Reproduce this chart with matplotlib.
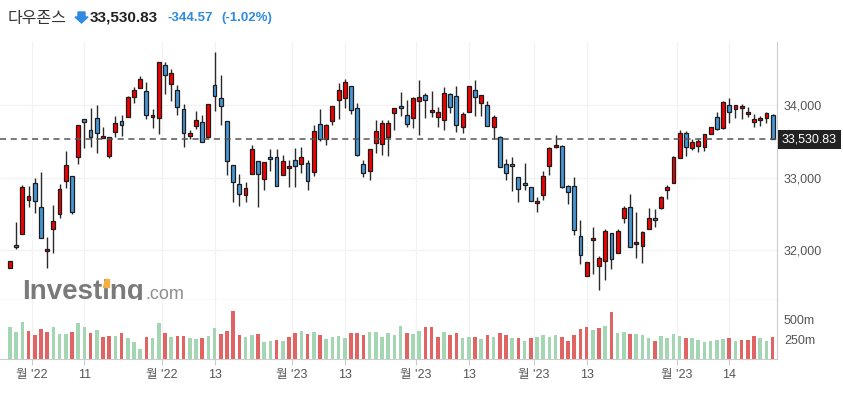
import numpy as np
import matplotlib
matplotlib.use("Agg")
import matplotlib.pyplot as plt
from matplotlib.patches import Polygon

plt.rcParams['font.family'] = ['Liberation Sans', 'Noto Sans CJK KR', 'DejaVu Sans']

# daily OHLC (26 Oct 2022 .. 25 Apr 2023)
opens = [31747, 32065, 32217, 32687, 32931, 32590, 31982, 32286, 32498, 32950,
         33019, 33281, 33807, 33655, 33820, 33544, 33295, 33627, 33783, 33839,
         34111, 34235, 34194, 33834, 33820, 34553, 34290, 34207, 33945, 33572,
         33710, 33765, 33558, 34276, 34097, 33779, 33171, 32908, 32756, 33046,
         33235, 32977, 33286, 33281, 33033, 33129, 33240, 33185, 33198, 33074,
         33737, 33530, 33779, 34069, 34097, 34263, 33959, 33185, 33088, 33475,
         33461, 33558, 33889, 33986, 33862, 33820, 34055, 34138, 33903, 33834,
         33793, 34152, 34124, 33696, 33903, 34207, 34028, 34000, 33696, 33558,
         33185, 33185, 33005, 32922, 32867, 32646, 32756, 33157, 33420, 33433,
         32881, 32881, 32190, 31637, 32134, 31775, 31844, 32231, 31955, 32438,
         32590, 32079, 32051, 32286, 32438, 32576, 32825, 32922, 33268, 33613,
         33406, 33433, 33420, 33599, 33834, 33682, 34000, 33945, 33959, 33876,
         33765, 33793, 33820, 33862]
closes = [31849, 32037, 32867, 32742, 32673, 32162, 32010, 32406, 32839, 33171,
          32530, 33724, 33765, 33558, 33613, 33572, 33558, 33760, 33724, 34111,
          34207, 34359, 33862, 33866, 34594, 34419, 34442, 33972, 33613, 33613,
          33793, 33493, 34014, 34124, 33991, 33231, 32936, 32770, 32853, 33392,
          33046, 33212, 33254, 32890, 33226, 33157, 33157, 33281, 32950, 33641,
          33530, 33724, 33986, 34207, 34318, 33931, 33309, 33060, 33392, 33641,
          33751, 33751, 33959, 33959, 33737, 34097, 34111, 34069, 33931, 33903,
          34166, 33972, 33724, 33876, 34263, 34111, 34138, 33710, 33834, 33143,
          33060, 33157, 32839, 32894, 32673, 32673, 33019, 33406, 33447, 32867,
          32807, 32272, 31927, 31830, 32162, 31885, 32259, 31872, 32259, 32576,
          32037, 32107, 32245, 32438, 32411, 32729, 32867, 33281, 33613, 33420,
          33489, 33502, 33599, 33696, 33668, 34041, 33903, 34000, 33986, 33903,
          33807, 33820, 33889, 33530.83]
highs = [31849, 32392, 32894, 32890, 32991, 33074, 32185, 32618, 32908, 33364,
         33019, 33724, 33807, 33968, 34000, 33696, 33558, 33853, 33871, 34134,
         34258, 34405, 34318, 33945, 34594, 34594, 34502, 34276, 34014, 33655,
         33922, 33866, 34014, 34733, 34424, 33779, 33171, 33046, 32945, 33447,
         33235, 33212, 33392, 33392, 33309, 33249, 33406, 33420, 33249, 33724,
         33945, 33742, 33986, 34309, 34364, 34263, 34028, 33245, 33392, 33797,
         33793, 33793, 33959, 34184, 34069, 34111, 34346, 34166, 34194, 33972,
         34249, 34166, 34263, 33903, 34263, 34346, 34138, 34055, 33862, 33572,
         33254, 33281, 33005, 33198, 32867, 32729, 33088, 33429, 33585, 33447,
         32894, 33005, 32420, 31830, 32314, 31913, 32286, 32231, 32286, 32604,
         32770, 32521, 32259, 32576, 32563, 32742, 32894, 33295, 33655, 33641,
         33530, 33530, 33599, 33696, 33903, 34055, 34097, 34000, 34014, 33972,
         33876, 33848, 33903, 33876]
lows = [31747, 32010, 32217, 32600, 32507, 32162, 31747, 31955, 32438, 32853,
        32494, 33185, 33406, 33420, 33337, 33544, 33268, 33558, 33572, 33839,
        34028, 34235, 33811, 33682, 33599, 34152, 34060, 33866, 33429, 33535,
        33668, 33493, 33558, 33922, 33724, 33037, 32669, 32609, 32669, 33046,
        32590, 32825, 33092, 32890, 33033, 32867, 32876, 33060, 32825, 33023,
        33502, 33447, 33724, 33807, 33959, 33880, 33300, 33005, 32963, 33337,
        33314, 33295, 33655, 33853, 33696, 33682, 33595, 33825, 33834, 33696,
        33655, 33889, 33627, 33613, 33903, 33848, 33848, 33710, 33530, 33143,
        32963, 32811, 32659, 32825, 32673, 32521, 32687, 33033, 33406, 32853,
        32641, 32203, 31802, 31637, 31664, 31443, 31581, 31733, 31955, 32369,
        32037, 31885, 31816, 32286, 32314, 32563, 32701, 32922, 33268, 33295,
        33378, 33350, 33364, 33599, 33655, 33668, 33751, 33820, 33807, 33834,
        33696, 33710, 33751, 33530.83]
volumes = [399, 337, 462, 349, 299, 374, 337, 399, 312, 312,
           337, 449, 399, 324, 362, 274, 287, 287, 324, 262,
           212, 124, 274, 262, 449, 324, 274, 287, 287, 262,
           249, 262, 287, 387, 312, 349, 599, 299, 274, 299,
           312, 212, 224, 237, 224, 274, 324, 349, 312, 337,
           299, 249, 274, 287, 262, 324, 324, 299, 337, 337,
           274, 324, 299, 412, 324, 312, 349, 399, 399, 274,
           337, 299, 324, 262, 274, 274, 249, 299, 274, 324,
           299, 262, 262, 224, 262, 274, 299, 274, 299, 274,
           224, 299, 374, 399, 362, 387, 412, 591, 324, 337,
           312, 312, 299, 262, 224, 287, 262, 312, 287, 262,
           262, 237, 212, 224, 237, 249, 262, 224, 237, 237,
           287, 262, 224, 274]
vol_dir = ("GGGRRRRGGG" "RGGRGRRGRG" "GGRGGRGRRG" "GRGGRRRRGG" "RGGRGRRGRG"
           "RGGGGRRRGG" "GGGGRGGRRR" "GRRGGRGRGR" "RGRGRGGGGR" "RRRRGRGRGG"
           "RGGGRGGGGR" "GGGGGGRGRR" "RGGR")

tick_pos = [3.5, 12, 24.5, 33, 45.5, 54, 65.5, 74, 84.5, 93, 107.5, 116]
tick_labels = ["월 '22", "11", "월 '22", "13", "월 '23", "13",
               "월 '23", "13", "월 '23", "13", "월 '23", "14"]

last = 33530.83
up_col = "#f50000"
down_col = "#4898d8"
edge = "#1c1c1c"

W, H = 843, 394
fig = plt.figure(figsize=(W / 100, H / 100), dpi=100)
ax = fig.add_axes([0, 1 - 300 / H, 777 / W, 258 / H])
axv = fig.add_axes([0, 1 - 359 / H, 777 / W, 59 / H], sharex=ax)

x = np.arange(len(opens))
o = np.array(opens, float)
c = np.array(closes, float)
hi = np.array(highs, float)
lo = np.array(lows, float)
up = c >= o
cols = np.where(up, up_col, down_col)
bottom = np.minimum(o, c)
height = np.maximum(np.abs(c - o), 25)

ax.vlines(x, lo, hi, color="#2a2a2a", lw=1.0, zorder=2)
ax.bar(x, height, bottom=bottom, width=0.62, color=cols, edgecolor=edge,
       linewidth=0.9, zorder=3)

ax.axhline(last, color="#555555", lw=1.1, ls=(0, (4, 3)), zorder=4)

ax.set_xlim(-1.6, 123.7)
ax.set_ylim(31309, 34875)
ax.yaxis.tick_right()
ax.set_yticks([32000, 33000, 34000])
ax.set_yticklabels(["32,000", "33,000", "34,000"])
ax.tick_params(axis='y', length=0, pad=5, labelsize=9, labelcolor="#555555")
ax.tick_params(axis='x', length=0, labelbottom=False)
ax.set_xticks(tick_pos)
ax.grid(True, color="#f2f2f2", lw=0.9)
ax.set_axisbelow(True)
for s in ["top", "left"]:
    ax.spines[s].set_visible(False)
ax.spines["right"].set_color("#cccccc")
ax.spines["bottom"].set_color("#bbbbbb")

# price tag on the right axis
ax.annotate(f"{last:,.2f}", xy=(1, last), xycoords=('axes fraction', 'data'),
            xytext=(3.5, 0), textcoords='offset points', va='center', ha='left',
            fontsize=9, color="white",
            bbox=dict(boxstyle="square,pad=0.3", fc="#222222", ec="none"),
            annotation_clip=False)

# watermark
wm_kw = dict(fontsize=20, fontweight='bold')
ax.text(22 / 777, 0.002, "Investing", transform=ax.transAxes, color="#7a7a7a",
        ha='left', va='baseline', clip_on=True, zorder=1, **wm_kw)
ax.text(145 / 777, 0.002, ".com", transform=ax.transAxes, fontsize=13,
        color="#8e8e8e", ha='left', va='baseline', clip_on=True, zorder=1)
# orange dot of the second "i"
fig.canvas.draw()
r = fig.canvas.get_renderer()
tmp1 = fig.text(0, 0, "Invest", **wm_kw)
tmp2 = fig.text(0, 0, "Investi", **wm_kw)
w1 = tmp1.get_window_extent(r).width
w2 = tmp2.get_window_extent(r).width
tmp1.remove()
tmp2.remove()
x0 = 22 + w1 + 0.5
x1 = 22 + w2 - 0.5
yb, yt = H - 287, H - 279
dot = Polygon([[x0 / W, yb / H], [x1 / W, yb / H], [x1 / W, yt / H],
               [(x0 + 2) / W, yt / H]], closed=True, transform=fig.transFigure,
              color="#f5b042", zorder=5)
fig.patches.append(dot)

# volume panel
vcols = ["#e06464" if d == "R" else "#a5d6b4" for d in vol_dir]
axv.bar(x, volumes, width=0.58, color=vcols, zorder=2)
axv.set_ylim(0, 741)
axv.yaxis.tick_right()
axv.set_yticks([250, 500])
axv.set_yticklabels(["250m", "500m"])
axv.tick_params(axis='y', length=0, pad=5, labelsize=9, labelcolor="#555555")
axv.set_xticks(tick_pos)
axv.set_xticklabels(tick_labels)
axv.tick_params(axis='x', length=4, color="#cccccc", pad=3, labelsize=9,
                labelcolor="#555555")
axv.grid(True, axis='x', color="#f2f2f2", lw=0.9)
axv.set_axisbelow(True)
for s in ["top", "left"]:
    axv.spines[s].set_visible(False)
axv.spines["right"].set_color("#cccccc")
axv.spines["bottom"].set_color("#cccccc")

# header
ty = 1 - 18 / H
fig.text(8 / W, ty, "다우존스", fontsize=11.5, color="#333333", va='center',
         family=['Noto Sans CJK KR'])
arrow = Polygon([[78 / W, 1 - 12 / H], [85 / W, 1 - 12 / H], [85 / W, 1 - 17 / H],
                 [88 / W, 1 - 17 / H], [81.5 / W, 1 - 23 / H], [75 / W, 1 - 17 / H],
                 [78 / W, 1 - 17 / H]], closed=True, transform=fig.transFigure,
                color="#2f8ae0")
fig.patches.append(arrow)
fig.text(90 / W, ty, "33,530.83", fontsize=11, fontweight='bold', color="#222222",
         va='center')
fig.text(168 / W, ty, "-344.57", fontsize=9.5, fontweight='bold', color="#2f8ae0",
         va='center')
fig.text(221 / W, ty, "(-1.02%)", fontsize=9.5, fontweight='bold', color="#2f8ae0",
         va='center')

fig.savefig("out.png", dpi=100)
